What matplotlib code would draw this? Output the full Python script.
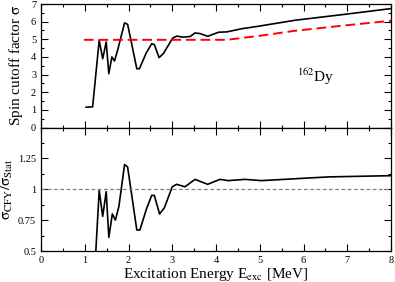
import matplotlib
matplotlib.use("Agg")
from matplotlib import pyplot as plt
from matplotlib.ticker import MultipleLocator

# sigma from the CFY calculation (black)
e_cfy = [1.03, 1.18, 1.33, 1.41, 1.49, 1.55, 1.62, 1.68, 1.75, 1.91, 1.98, 2.19, 2.25,
         2.40, 2.53, 2.59, 2.70, 2.80, 3.01, 3.10, 3.25, 3.41, 3.52, 3.64, 3.81, 4.06,
         4.25, 4.59, 4.97, 5.81, 6.96, 8.0]
sigma_cfy = [1.15, 1.17, 4.94, 3.90, 4.85, 3.05, 4.00, 3.77, 4.37, 5.93, 5.85, 3.33, 3.33,
             4.20, 4.75, 4.70, 3.96, 4.20, 5.07, 5.18, 5.12, 5.16, 5.36, 5.32, 5.17, 5.40,
             5.42, 5.60, 5.74, 6.08, 6.42, 6.74]

# statistical sigma (red dashed)
e_stat = [0.98, 4.25, 5.0, 5.8, 7.0, 8.0]
sigma_stat = [4.97, 4.97, 5.2, 5.48, 5.8, 6.05]

# ratio sigma_CFY / sigma_Stat
e_ratio = [1.25, 1.33, 1.41, 1.49, 1.55, 1.63, 1.70, 1.78, 1.91, 1.98, 2.19, 2.26, 2.41,
           2.53, 2.59, 2.71, 2.82, 3.0, 3.10, 3.29, 3.52, 3.81, 4.09, 4.28, 4.66, 5.04,
           6.57, 8.0]
ratio = [0.48, 0.99, 0.78, 0.98, 0.61, 0.80, 0.75, 0.86, 1.20, 1.18, 0.67, 0.67, 0.84,
         0.95, 0.95, 0.80, 0.85, 1.02, 1.04, 1.02, 1.08, 1.04, 1.08, 1.07, 1.08, 1.07,
         1.10, 1.11]

plt.rcParams['font.family'] = 'Liberation Serif'
plt.rcParams['mathtext.fontset'] = 'stix'

fig, axs = plt.subplots(2, 1, sharex=True, figsize=(3.95, 2.82), dpi=100)
fig.subplots_adjust(left=0.1038, right=0.9899, bottom=0.1099, top=0.9858, hspace=0)

top, bot = axs
top.plot(e_cfy, sigma_cfy, color='black', lw=1.2)
top.plot(e_stat, sigma_stat, color='red', lw=1.4, dashes=(5, 2.5))
top.set_ylim(0, 7)
top.set_yticks(range(0, 8))
top.yaxis.set_minor_locator(MultipleLocator(0.5))
top.set_ylabel(r'Spin cutoff factor $\mathrm{\sigma}$', fontsize=11, labelpad=4)
top.text(5.85, 2.6, r'$^{162}$Dy', fontsize=11)

bot.plot(e_ratio, ratio, color='black', lw=1.2)
bot.axhline(1.0, color='gray', lw=0.9, dashes=(3, 2))
bot.set_ylim(0.5, 1.5)
bot.set_yticks([0.5, 0.75, 1.0, 1.25, 1.5])
bot.set_yticklabels(['0.5', '0.75', '1', '1.25', ''])
bot.yaxis.set_minor_locator(MultipleLocator(0.125))
bot.set_ylabel(r'$\mathrm{\sigma_{CFY}/\sigma_{Stat}}$', fontsize=11, labelpad=2)
bot.set_xlim(0, 8)
bot.set_xticks(range(0, 9))
bot.xaxis.set_minor_locator(MultipleLocator(0.5))
bot.set_xlabel(r'Excitation Energy E$_{\rm exc}$ [MeV]', fontsize=11, labelpad=1)

for ax in axs:
    ax.tick_params(which='both', direction='in', top=True, right=True, labelsize=7.5)
    ax.tick_params(which='major', length=5, width=0.8)
    ax.tick_params(which='minor', length=2.5, width=0.8)
    for s in ax.spines.values():
        s.set_linewidth(0.9)
top.tick_params(labelbottom=False)

plt.savefig('out.png', dpi=100)
